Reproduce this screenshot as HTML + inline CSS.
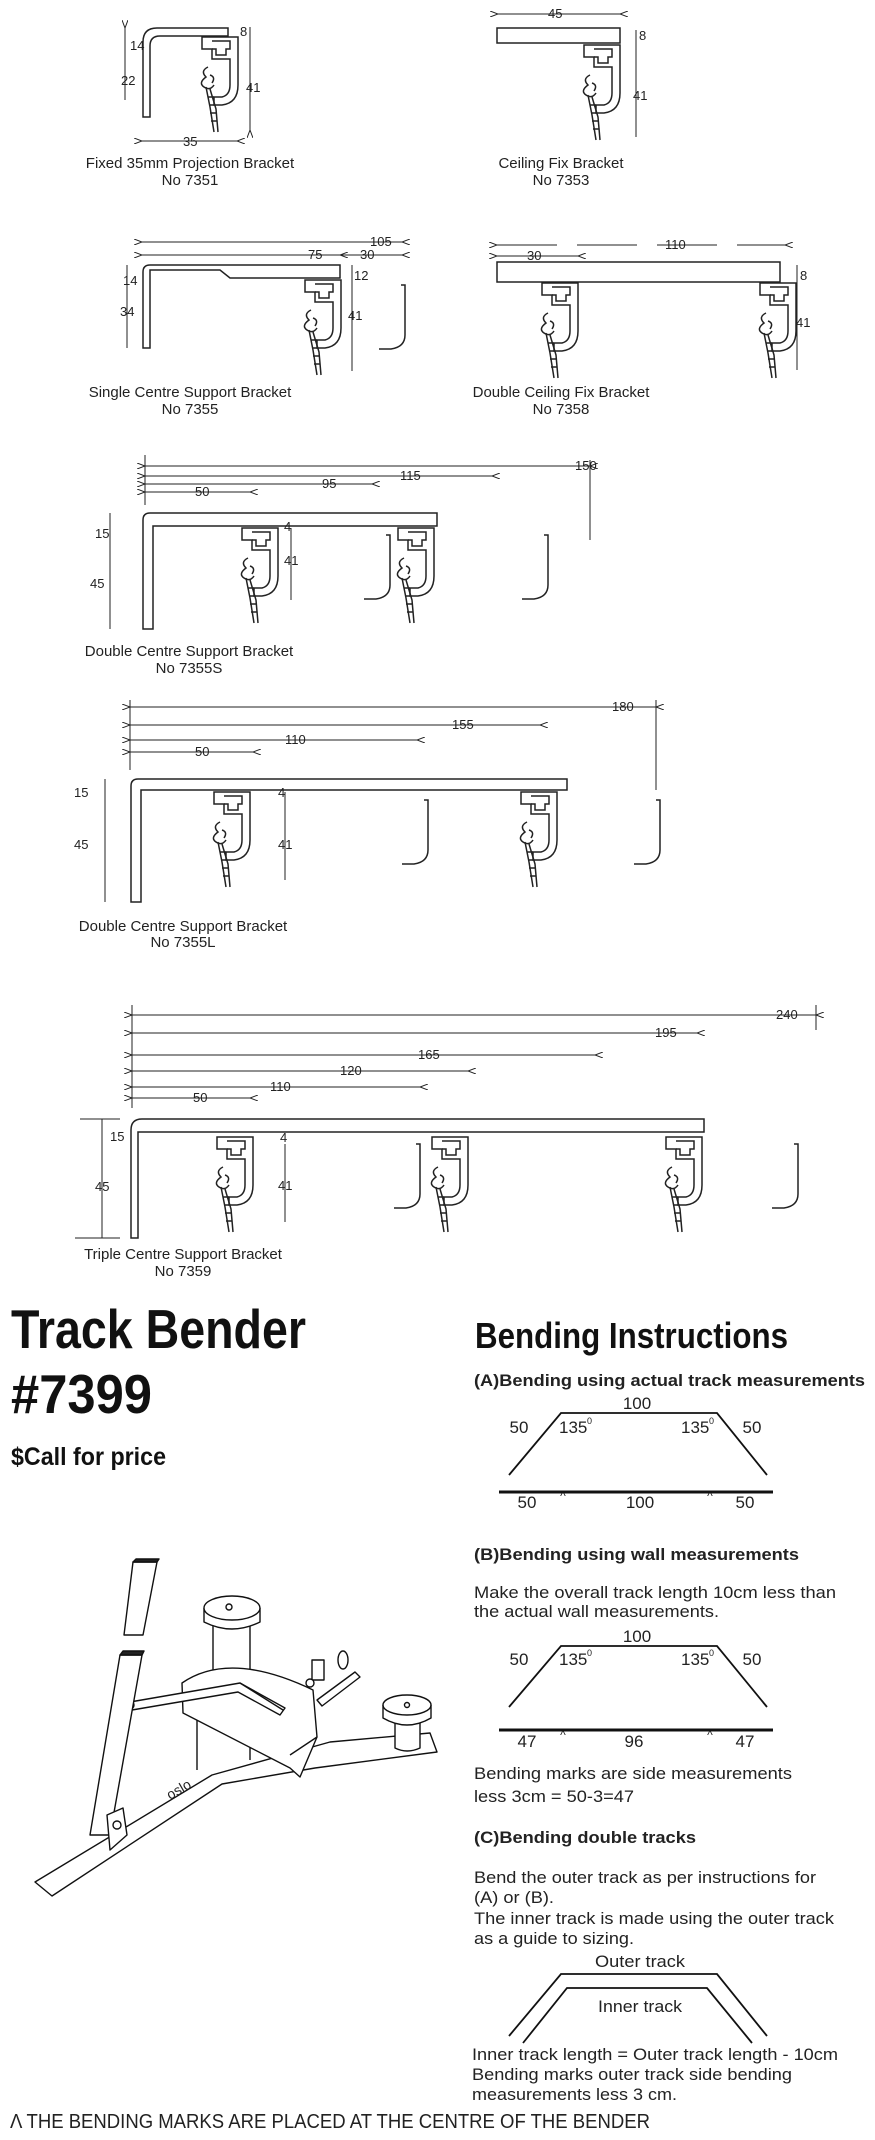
<!DOCTYPE html>
<html><head><meta charset="utf-8"><style>
html,body{margin:0;padding:0;background:#fff}
svg{display:block}
.l{font-family:"Liberation Sans",sans-serif;font-size:15px;fill:#222}
.n{font-family:"Liberation Sans Narrow","Liberation Sans",sans-serif;fill:#222}
.d{font-family:"Liberation Sans",sans-serif;font-size:13px;fill:#222}
.h{font-family:"Liberation Sans Narrow","Liberation Sans",sans-serif;font-weight:bold;fill:#111}
</style></head><body>
<svg width="875" height="2140" viewBox="0 0 875 2140" xmlns="http://www.w3.org/2000/svg">
<defs>
<marker id="a" markerWidth="8" markerHeight="6" refX="0" refY="3" orient="auto-start-reverse"><path d="M8,0 L0,3 L8,6" fill="none" stroke="#222" stroke-width="1"/></marker>
<symbol id="trk" viewBox="0 0 40 105" width="40" height="105" overflow="visible">
<g fill="none" stroke="#222" stroke-width="1.5">
<path d="M2,0 H38 V48 Q38,66 22,68 H14 V60 H22 Q30,58 30,48 V22 H12 V12 H2 Z"/>
<path d="M12,4 H30 V12 H26 V18 H16 V12 H12"/>
<path d="M8,30 Q0,34 6,40 Q-2,46 4,50 Q10,54 14,48 M10,38 Q16,40 12,46"/>
<path d="M6,50 L10,70 L14,95 M10,52 L16,72 L18,95 M8,60 H14 M9,68 H15 M10,76 H16 M11,84 H17"/>
</g></symbol>
<symbol id="j" viewBox="0 0 30 70" width="30" height="70" overflow="visible">
<path d="M24,0 H28 V50 Q28,62 14,64 H2" fill="none" stroke="#222" stroke-width="1.5"/>
</symbol>
</defs>
<g stroke="#222" fill="none" stroke-width="1">
<path d="M143,117 V42 Q143,28 157,28 H228 V36 H160 Q150,36 150,46 V117 Z" stroke-width="1.5"/>
<line x1="125" y1="28" x2="125" y2="100" marker-start="url(#a)"/>
<line x1="250" y1="27" x2="250" y2="130" marker-end="url(#a)"/>
<line x1="142" y1="141" x2="237" y2="141" marker-start="url(#a)" marker-end="url(#a)"/>
<rect x="497" y="28" width="123" height="15" stroke-width="1.5"/>
<line x1="498" y1="14" x2="620" y2="14" marker-start="url(#a)" marker-end="url(#a)"/>
<line x1="636" y1="30" x2="636" y2="137"/>
<path d="M143,348 V272 Q143,265 150,265 H340 V278 H230 L220,270 H150 V348 Z" stroke-width="1.5"/>
<line x1="142" y1="242" x2="402" y2="242" marker-start="url(#a)" marker-end="url(#a)"/>
<line x1="142" y1="255" x2="340" y2="255" marker-start="url(#a)" marker-end="url(#a)"/>
<line x1="340" y1="255" x2="402" y2="255" marker-end="url(#a)"/>
<line x1="352" y1="265" x2="352" y2="371"/>
<line x1="127" y1="265" x2="127" y2="348"/>
<rect x="497" y="262" width="283" height="20" stroke-width="1.5"/>
<line x1="497" y1="245" x2="785" y2="245" marker-start="url(#a)" marker-end="url(#a)" stroke-dasharray="60,20"/>
<line x1="497" y1="256" x2="578" y2="256" marker-start="url(#a)" marker-end="url(#a)"/>
<line x1="797" y1="265" x2="797" y2="370"/>
<path d="M143,629 V520 Q143,513 150,513 H437 V526 H153 V629 Z" stroke-width="1.5"/>
<line x1="145" y1="466" x2="590" y2="466" marker-start="url(#a)" marker-end="url(#a)"/>
<line x1="145" y1="476" x2="492" y2="476" marker-start="url(#a)" marker-end="url(#a)"/>
<line x1="145" y1="484" x2="372" y2="484" marker-start="url(#a)" marker-end="url(#a)"/>
<line x1="145" y1="492" x2="250" y2="492" marker-start="url(#a)" marker-end="url(#a)"/>
<line x1="145" y1="455" x2="145" y2="505"/><line x1="590" y1="460" x2="590" y2="540"/>
<line x1="291" y1="528" x2="291" y2="600"/><line x1="110" y1="513" x2="110" y2="629"/>
<path d="M131,902 V786 Q131,779 138,779 H567 V790 H141 V902 Z" stroke-width="1.5"/>
<line x1="130" y1="707" x2="656" y2="707" marker-start="url(#a)" marker-end="url(#a)"/>
<line x1="130" y1="725" x2="540" y2="725" marker-start="url(#a)" marker-end="url(#a)"/>
<line x1="130" y1="740" x2="417" y2="740" marker-start="url(#a)" marker-end="url(#a)"/>
<line x1="130" y1="752" x2="253" y2="752" marker-start="url(#a)" marker-end="url(#a)"/>
<line x1="130" y1="700" x2="130" y2="770"/><line x1="656" y1="700" x2="656" y2="790"/>
<line x1="285" y1="792" x2="285" y2="880"/><line x1="105" y1="779" x2="105" y2="902"/>
<path d="M131,1238 V1130 Q131,1119 142,1119 H704 V1132 H138 V1238 Z" stroke-width="1.5"/>
<line x1="132" y1="1015" x2="816" y2="1015" marker-start="url(#a)" marker-end="url(#a)"/>
<line x1="132" y1="1033" x2="697" y2="1033" marker-start="url(#a)" marker-end="url(#a)"/>
<line x1="132" y1="1055" x2="595" y2="1055" marker-start="url(#a)" marker-end="url(#a)"/>
<line x1="132" y1="1071" x2="468" y2="1071" marker-start="url(#a)" marker-end="url(#a)"/>
<line x1="132" y1="1087" x2="420" y2="1087" marker-start="url(#a)" marker-end="url(#a)"/>
<line x1="132" y1="1098" x2="250" y2="1098" marker-start="url(#a)" marker-end="url(#a)"/>
<line x1="132" y1="1005" x2="132" y2="1108"/><line x1="816" y1="1005" x2="816" y2="1030"/>
<line x1="285" y1="1144" x2="285" y2="1222"/><line x1="102" y1="1119" x2="102" y2="1238"/>
<line x1="80" y1="1119" x2="120" y2="1119"/><line x1="75" y1="1238" x2="120" y2="1238"/>
</g>
<use href="#trk" x="200" y="37"/>
<use href="#trk" x="582" y="45"/>
<use href="#trk" x="303" y="280"/>
<use href="#trk" x="540" y="283"/><use href="#trk" x="758" y="283"/>
<use href="#j" x="377" y="285"/>
<use href="#trk" x="240" y="528"/><use href="#trk" x="396" y="528"/>
<use href="#j" x="362" y="535"/><use href="#j" x="520" y="535"/>
<use href="#trk" x="212" y="792"/><use href="#trk" x="519" y="792"/>
<use href="#j" x="400" y="800"/><use href="#j" x="632" y="800"/>
<use href="#trk" x="215" y="1137"/><use href="#trk" x="430" y="1137"/><use href="#trk" x="664" y="1137"/>
<use href="#j" x="392" y="1144"/><use href="#j" x="770" y="1144"/>

<g class="d">
<text x="130" y="50">14</text><text x="121" y="85">22</text><text x="246" y="92">41</text><text x="240" y="36">8</text><text x="183" y="146">35</text>
<text x="548" y="18">45</text><text x="639" y="40">8</text><text x="633" y="100">41</text>
<text x="370" y="246">105</text><text x="308" y="259">75</text><text x="360" y="259">30</text><text x="123" y="285">14</text><text x="120" y="316">34</text><text x="354" y="280">12</text><text x="348" y="320">41</text>
<text x="665" y="249">110</text><text x="527" y="260">30</text><text x="800" y="280">8</text><text x="796" y="327">41</text>
<text x="575" y="470">150</text><text x="400" y="480">115</text><text x="322" y="488">95</text><text x="195" y="496">50</text>
<text x="95" y="538">15</text><text x="90" y="588">45</text><text x="284" y="531">4</text><text x="284" y="565">41</text>
<text x="612" y="711">180</text><text x="452" y="729">155</text><text x="285" y="744">110</text><text x="195" y="756">50</text>
<text x="74" y="797">15</text><text x="74" y="849">45</text><text x="278" y="797">4</text><text x="278" y="849">41</text>
<text x="776" y="1019">240</text><text x="655" y="1037">195</text><text x="418" y="1059">165</text><text x="340" y="1075">120</text><text x="270" y="1091">110</text><text x="193" y="1102">50</text>
<text x="110" y="1141">15</text><text x="95" y="1191">45</text><text x="280" y="1142">4</text><text x="278" y="1190">41</text>
</g>
<g class="l" text-anchor="middle">
<text x="190" y="168">Fixed 35mm Projection Bracket</text><text x="190" y="185">No 7351</text>
<text x="561" y="168">Ceiling Fix Bracket</text><text x="561" y="185">No 7353</text>
<text x="190" y="397">Single Centre Support Bracket</text><text x="190" y="414">No 7355</text>
<text x="561" y="397">Double Ceiling Fix Bracket</text><text x="561" y="414">No 7358</text>
<text x="189" y="656">Double Centre Support Bracket</text><text x="189" y="673">No 7355S</text>
<text x="183" y="931">Double Centre Support Bracket</text><text x="183" y="947">No 7355L</text>
<text x="183" y="1259">Triple Centre Support Bracket</text><text x="183" y="1276">No 7359</text>
</g>

<text class="h" x="11" y="1348" font-size="55" textLength="295" lengthAdjust="spacingAndGlyphs">Track Bender</text>
<text class="h" x="11" y="1413" font-size="55" textLength="141" lengthAdjust="spacingAndGlyphs">#7399</text>
<text class="h" x="11" y="1465" font-size="25" textLength="155" lengthAdjust="spacingAndGlyphs">$Call for price</text>
<text class="h" x="475" y="1348" font-size="36" textLength="313" lengthAdjust="spacingAndGlyphs">Bending Instructions</text>

<g class="n" font-size="17">
<text x="474" y="1386" font-weight="bold" textLength="391" lengthAdjust="spacingAndGlyphs">(A)Bending using actual track measurements</text>
<text x="474" y="1560" font-weight="bold" textLength="325" lengthAdjust="spacingAndGlyphs">(B)Bending using wall measurements</text>
<text x="474" y="1598" textLength="362" lengthAdjust="spacingAndGlyphs">Make the overall track length 10cm less than</text>
<text x="474" y="1617" textLength="245" lengthAdjust="spacingAndGlyphs">the actual wall measurements.</text>
<text x="474" y="1779" textLength="318" lengthAdjust="spacingAndGlyphs">Bending marks are side measurements</text>
<text x="474" y="1802" textLength="160" lengthAdjust="spacingAndGlyphs">less 3cm = 50-3=47</text>
<text x="474" y="1843" font-weight="bold" textLength="222" lengthAdjust="spacingAndGlyphs">(C)Bending double tracks</text>
<text x="474" y="1883" textLength="342" lengthAdjust="spacingAndGlyphs">Bend the outer track as per instructions for</text>
<text x="474" y="1903" textLength="80" lengthAdjust="spacingAndGlyphs">(A) or (B).</text>
<text x="474" y="1924" textLength="360" lengthAdjust="spacingAndGlyphs">The inner track is made using the outer track</text>
<text x="474" y="1944" textLength="160" lengthAdjust="spacingAndGlyphs">as a guide to sizing.</text>
<text x="640" y="1967" text-anchor="middle" textLength="90" lengthAdjust="spacingAndGlyphs">Outer track</text>
<text x="640" y="2012" text-anchor="middle" textLength="84" lengthAdjust="spacingAndGlyphs">Inner track</text>
<text x="472" y="2060" textLength="366" lengthAdjust="spacingAndGlyphs">Inner track length = Outer track length - 10cm</text>
<text x="472" y="2080" textLength="320" lengthAdjust="spacingAndGlyphs">Bending marks outer track side bending</text>
<text x="472" y="2100" textLength="205" lengthAdjust="spacingAndGlyphs">measurements less 3 cm.</text>
<text x="10" y="2128" font-size="20" textLength="640" lengthAdjust="spacingAndGlyphs">Λ  THE BENDING MARKS ARE PLACED AT THE CENTRE OF THE BENDER</text>
<text x="637" y="1409" text-anchor="middle">100</text>
<text x="519" y="1433" text-anchor="middle">50</text><text x="559" y="1433">135</text><text x="587" y="1424" font-size="9">0</text>
<text x="681" y="1433">135</text><text x="709" y="1424" font-size="9">0</text><text x="752" y="1433" text-anchor="middle">50</text>
<text x="527" y="1508" text-anchor="middle">50</text><text x="563" y="1500" text-anchor="middle" font-size="12">^</text><text x="640" y="1508" text-anchor="middle">100</text><text x="710" y="1500" text-anchor="middle" font-size="12">^</text><text x="745" y="1508" text-anchor="middle">50</text>
<text x="637" y="1642" text-anchor="middle">100</text>
<text x="519" y="1665" text-anchor="middle">50</text><text x="559" y="1665">135</text><text x="587" y="1656" font-size="9">0</text>
<text x="681" y="1665">135</text><text x="709" y="1656" font-size="9">0</text><text x="752" y="1665" text-anchor="middle">50</text>
<text x="527" y="1747" text-anchor="middle">47</text><text x="563" y="1739" text-anchor="middle" font-size="12">^</text><text x="634" y="1747" text-anchor="middle">96</text><text x="710" y="1739" text-anchor="middle" font-size="12">^</text><text x="745" y="1747" text-anchor="middle">47</text>
</g>
<g fill="none" stroke="#111" stroke-width="1.8">
<path d="M509,1475 L561,1413 H717 L767,1475"/>
<line x1="499" y1="1492" x2="773" y2="1492" stroke-width="3"/>
<path d="M509,1707 L561,1646 H717 L767,1707"/>
<line x1="499" y1="1730" x2="773" y2="1730" stroke-width="3"/>
<path d="M509,2036 L561,1974 H717 L767,2036"/>
<path d="M523,2043 L567,1988 H707 L752,2043"/>
</g>
<!-- bender sketch -->
<g fill="#fff" stroke="#111" stroke-width="1.4" stroke-linejoin="round">
<!-- base -->
<path d="M35,1882 L212,1775 L330,1742 L430,1733 L437,1752 L315,1768 L222,1784 L52,1896 Z"/>
<!-- rear stem -->
<path d="M197,1690 V1770 M250,1690 V1760"/>
<!-- right roller -->
<path d="M395,1710 V1748 Q407,1754 420,1748 V1710"/>
<path d="M383,1705 V1718 Q407,1732 431,1718 V1705"/>
<ellipse cx="407" cy="1705" rx="24" ry="10"/>
<circle cx="407" cy="1705" r="2.5"/>
<!-- clamp -->
<path d="M317,1700 L355,1672 L360,1677 L322,1706 Z"/>
<rect x="312" y="1660" width="12" height="20"/>
<circle cx="310" cy="1683" r="4"/>
<ellipse cx="343" cy="1660" rx="5" ry="9"/>
<!-- pedestal -->
<path d="M213,1620 V1672 Q232,1680 250,1672 V1620"/>
<path d="M204,1608 V1622 Q232,1636 260,1622 V1608"/>
<ellipse cx="232" cy="1608" rx="28" ry="12"/>
<circle cx="229" cy="1607" r="3"/>
<!-- disk -->
<path d="M183,1713 L182,1683 Q230,1650 313,1690 L317,1737 L300,1777 L290,1768 Z"/>
<path d="M290,1755 L317,1737"/>
<!-- lever -->
<path d="M130,1702 L240,1683 L285,1708 L280,1715 L238,1692 L132,1710 Z"/>
<path d="M240,1683 L283,1710"/>
<circle cx="130" cy="1705" r="4"/>
<!-- posts -->
<path d="M124,1635 L133,1562 L157,1562 L143,1635 Z"/>
<path d="M133,1562 L136,1559 L159,1559 L157,1562 Z" fill="#222"/>
<path d="M90,1835 L120,1655 L142,1655 L110,1835 Z"/>
<path d="M120,1655 L123,1651 L144,1651 L142,1655 Z" fill="#222"/>
<path d="M107,1815 L123,1808 L127,1835 L110,1850 Z"/>
<circle cx="117" cy="1825" r="4"/>
</g>
<text x="170" y="1800" font-family="Liberation Sans" font-size="14" fill="#222" transform="rotate(-30 170 1800)">oslo</text>
</svg>
</body></html>
